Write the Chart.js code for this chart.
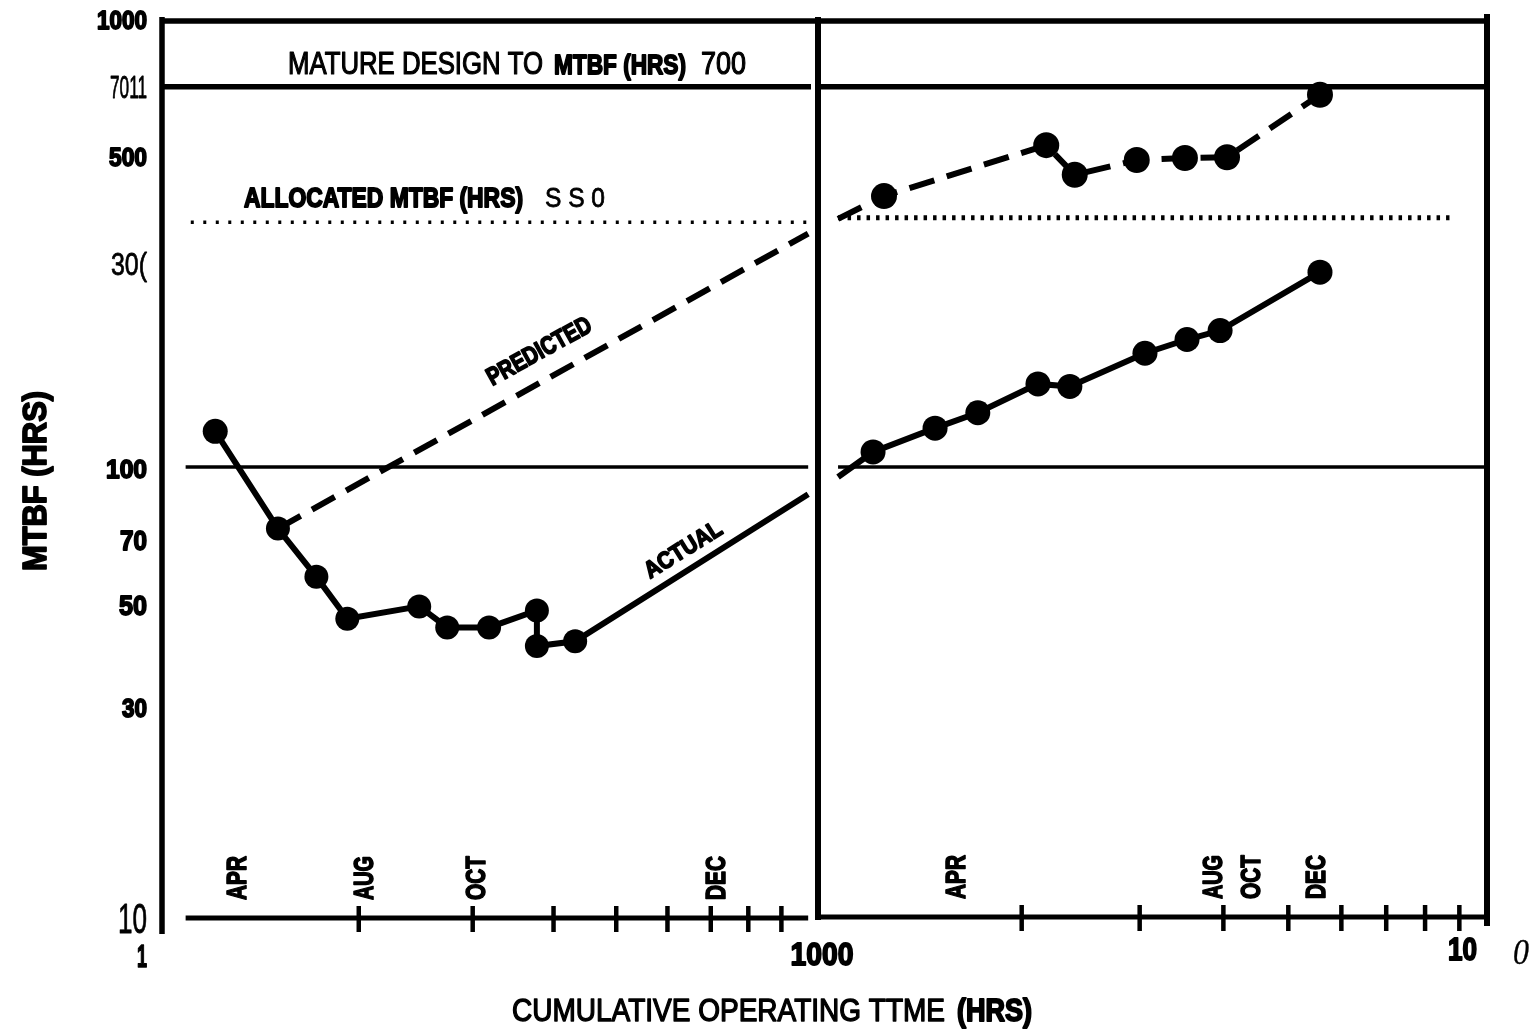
<!DOCTYPE html>
<html><head><meta charset="utf-8">
<script src="https://cdn.jsdelivr.net/npm/chart.js@4.4.1/dist/chart.umd.min.js"></script>
<style>
html,body{margin:0;padding:0;background:#fff;}
#wrap{position:relative;width:1531px;height:1030px;overflow:hidden;background:#fff;}
canvas{position:absolute;left:0;top:0;}
</style></head><body>
<div id="wrap">
<canvas id="cL" width="1531" height="1030" style="width:1531px;height:1030px"></canvas>
<canvas id="cR" width="1531" height="1030" style="width:1531px;height:1030px"></canvas>
</div>
<script>
// ---- data ----
const leftActualHrs  = [120, 150, 172, 192, 248, 274, 318, 377, 377, 432, 990];
const leftActualMtbf = [120, 73, 57, 46, 49, 44, 44, 48, 40, 41, 87];
const leftPredHrs    = [150, 990];
const leftPredMtbf   = [73, 330];
const rightActualHrs  = [1064, 1200, 1485, 1720, 2115, 2360, 3055, 3530, 3955, 5575];
const rightActualMtbf = [95, 108, 122, 132, 153, 151, 179, 192, 201, 271];
const rightPredHrs    = [1064, 1246, 2176, 2400, 2970, 3505, 4050, 5575];
const rightPredMtbf   = [356, 400, 519, 446, 481, 486, 488, 672];
const matureMtbf = 700;
const allocatedMtbfLeft = 350;
const allocatedMtbfRight = 358;
const baselineMtbf = 100;
const yTickValues = [1000, 700, 500, 300, 100, 70, 50, 30, 10];
const yTickLabels = ['1000', '7011', '500', '30(', '100', '70', '50', '30', '10'];
const leftTickHrs  = [200, 300, 400, 500, 600, 700, 800, 900];
const rightTickHrs = [2000, 3000, 4000, 5000, 6000, 7000, 8000, 9000];
const leftMonths   = ['APR', 'AUG', 'OCT', 'DEC'];
const leftMonthHrs = [129, 203, 303, 710];
const rightMonths   = ['APR', 'AUG', 'OCT', 'DEC'];
const rightMonthHrs = [1590, 3840, 4380, 5480];
const leftSpanHrs  = [108, 990];
const rightSpanHrs = [1064, 10000];

// ---- styles ----
const BLACK = '#000';
const FAM = "'Liberation Sans Narrow','Liberation Sans',Arial,sans-serif";
const yLabelStyle = [
  {w:50,h:18,b:true,dy:3},{w:37,h:22,b:false,dy:0},{w:38,h:19,b:true,dy:4},{w:36,h:23,b:false,dy:11},
  {w:41,h:19,b:true,dy:1},{w:27,h:20,b:true,dy:3},{w:28,h:20,b:true,dy:3},{w:25,h:19,b:true,dy:5},{w:29,h:31,b:false,dy:0}
];

function fitText(ctx, str, o) {
  const fs = o.h / 0.72;
  ctx.save();
  ctx.font = (o.style || 'normal') + ' ' + (o.bold ? 'bold' : 'normal') + ' ' + fs + 'px ' + (o.family || FAM);
  const mw = ctx.measureText(str).width;
  const sx = o.w ? o.w / mw : 1;
  ctx.translate(o.x, o.y);
  if (o.rot) ctx.rotate(o.rot);
  ctx.scale(sx, 1);
  let dx = 0;
  if (o.align === 'center') dx = -mw / 2; else if (o.align === 'right') dx = -mw;
  ctx.textBaseline = 'alphabetic';
  ctx.fillStyle = BLACK;
  ctx.fillText(str, dx, 0);
  const sw = o.sw !== undefined ? o.sw : (o.bold ? 1.3 : 0.5);
  if (sw > 0) { ctx.strokeStyle = BLACK; ctx.lineWidth = sw; ctx.lineJoin = 'round'; ctx.strokeText(str, dx, 0); }
  ctx.restore();
}
function seg(ctx, x1, y1, x2, y2, w) {
  ctx.save(); ctx.strokeStyle = BLACK; ctx.lineWidth = w; ctx.lineCap = 'butt';
  ctx.beginPath(); ctx.moveTo(x1, y1); ctx.lineTo(x2, y2); ctx.stroke(); ctx.restore();
}
function pts(xs, ys) { return xs.map((x, i) => ({x: x, y: ys[i]})); }
function lineDs(data, extra) {
  return Object.assign({data: data, showLine: true, borderColor: BLACK, backgroundColor: BLACK,
    pointBackgroundColor: BLACK, pointBorderWidth: 0, pointRadius: 0, pointHoverRadius: 0,
    borderWidth: 5, fill: false, tension: 0, clip: false, borderCapStyle: 'butt'}, extra || {});
}
function opts(xmin, xmax, pad) {
  return {responsive: false, animation: false, events: [], layout: {padding: pad},
    plugins: {legend: {display: false}, tooltip: {enabled: false}},
    scales: {x: {type: 'logarithmic', min: xmin, max: xmax, display: false},
             y: {type: 'logarithmic', min: 10, max: 1000, display: false}}};
}
function drawTicks(ctx, xs, vals, yAxis) {
  vals.forEach(v => { const x = xs.getPixelForValue(v); seg(ctx, x, yAxis - 12, x, yAxis + 14, 4.5); });
}
function drawMonths(ctx, xs, names, vals, yAxis) {
  names.forEach((n, i) => {
    const x = xs.getPixelForValue(vals[i]);
    fitText(ctx, n, {x: x + 10, y: yAxis - 18, w: 44, h: 20, bold: true, sw: 1.6, rot: -Math.PI / 2});
  });
}

const leftPlugin = {
  id: 'leftDecor',
  afterDatasetsDraw(chart) {
    const ctx = chart.ctx, xs = chart.scales.x, ys = chart.scales.y, a = chart.chartArea;
    const yAxis = ys.getPixelForValue(10) + 1;
    seg(ctx, a.left - 2, a.top, a.left - 2, yAxis + 16, 5.5);
    seg(ctx, a.left - 4, a.top + 4, 818, a.top + 4, 5.5);
    seg(ctx, xs.getPixelForValue(leftSpanHrs[0]), yAxis, xs.getPixelForValue(leftSpanHrs[1]), yAxis, 5);
    drawTicks(ctx, xs, leftTickHrs, yAxis);
    drawMonths(ctx, xs, leftMonths, leftMonthHrs, yAxis);
    // y tick labels
    yTickValues.forEach((v, i) => {
      const s = yLabelStyle[i], py = ys.getPixelForValue(v);
      fitText(ctx, yTickLabels[i], {x: 147, y: py + s.h / 2 + s.dy, w: s.w, h: s.h, bold: s.b, sw: s.b ? 1.8 : 0.8, align: 'right'});
    });
    fitText(ctx, 'MTBF (HRS)', {x: 46, y: 481, w: 180, h: 24, bold: true, sw: 1.8, align: 'center', rot: -Math.PI / 2});
    // headers
    fitText(ctx, 'MATURE DESIGN TO', {x: 288, y: 74, w: 255, h: 22, sw: 1.2});
    fitText(ctx, 'MTBF (HRS)', {x: 554, y: 74, w: 132, h: 20, bold: true, sw: 1.8});
    fitText(ctx, '700', {x: 701, y: 74, w: 45, h: 22, sw: 1.2});
    fitText(ctx, 'ALLOCATED MTBF (HRS)', {x: 244, y: 207, w: 279, h: 20, bold: true, sw: 1.9});
    fitText(ctx, 'S S 0', {x: 545, y: 207, w: 60, h: 20, sw: 0.8});
    fitText(ctx, 'PREDICTED', {x: 543, y: 358, w: 116, h: 18, bold: true, sw: 1.7, align: 'center', rot: -29 * Math.PI / 180});
    fitText(ctx, 'ACTUAL', {x: 687, y: 556, w: 87, h: 17, bold: true, sw: 1.7, align: 'center', rot: -32 * Math.PI / 180});
    // x labels
    fitText(ctx, '1', {x: 147, y: 967, w: 10, h: 22, bold: true, sw: 1.5, align: 'right'});
    fitText(ctx, '1000', {x: xs.getPixelForValue(1000) + 11, y: 965, w: 63, h: 23, bold: true, sw: 1.8, align: 'center'});
    fitText(ctx, 'CUMULATIVE OPERATING TTME', {x: 512, y: 1021, w: 433, h: 23, sw: 1.4});
    fitText(ctx, '(HRS)', {x: 957, y: 1021, w: 75, h: 22, bold: true, sw: 1.9});
  }
};
const rightPlugin = {
  id: 'rightDecor',
  afterDatasetsDraw(chart) {
    const ctx = chart.ctx, xs = chart.scales.x, ys = chart.scales.y, a = chart.chartArea;
    const yAxis = ys.getPixelForValue(10);
    seg(ctx, a.left - 2, a.top, a.left - 2, yAxis + 3, 6);
    seg(ctx, a.left - 4, a.top + 4, a.right, a.top + 4, 5.5);
    seg(ctx, a.right - 3, a.top - 3, a.right - 3, yAxis + 9, 6);
    seg(ctx, a.left - 5, yAxis, a.right, yAxis, 5);
    drawTicks(ctx, xs, rightTickHrs, yAxis);
    drawMonths(ctx, xs, rightMonths, rightMonthHrs, yAxis);
    fitText(ctx, '10', {x: 1448, y: 960, w: 29, h: 22, bold: true, sw: 1.8});
    fitText(ctx, '0', {x: 1513, y: 964, w: 16, h: 26, style: 'italic', sw: 0.3, family: "'Liberation Serif',serif"});
  }
};

const leftActualRadius = leftActualHrs.map((_, i) => i === leftActualHrs.length - 1 ? 0 : (i === 0 ? 12.5 : 12));
new Chart(document.getElementById('cL'), {
  type: 'scatter',
  data: {datasets: [
    lineDs(pts([100, 1000], [matureMtbf, matureMtbf]), {borderWidth: 5.5}),
    lineDs(pts(leftSpanHrs, [baselineMtbf, baselineMtbf]), {borderWidth: 3.5}),
    lineDs(pts([110, 990], [allocatedMtbfLeft, allocatedMtbfLeft]), {borderWidth: 3.5, borderDash: [3, 9.5]}),
    lineDs(pts(leftPredHrs, leftPredMtbf), {borderWidth: 6, borderDash: [26, 13]}),
    lineDs(pts(leftActualHrs, leftActualMtbf), {borderWidth: 6, pointRadius: leftActualRadius})
  ]},
  options: opts(100, 1000, {left: 164, right: 1531 - 811, top: 17, bottom: 1030 - 917}),
  plugins: [leftPlugin]
});

const rightActualRadius = rightActualHrs.map((_, i) => i === 0 ? 0 : 12.5);
const rightPredRadius = rightPredHrs.map((_, i) => i === 0 ? 0 : 13);
new Chart(document.getElementById('cR'), {
  type: 'scatter',
  data: {datasets: [
    lineDs(pts([1000, 10000], [matureMtbf, matureMtbf]), {borderWidth: 5.5}),
    lineDs(pts(rightSpanHrs, [baselineMtbf, baselineMtbf]), {borderWidth: 3.5}),
    lineDs(pts([1064, 8700], [allocatedMtbfRight, allocatedMtbfRight]), {borderWidth: 5, borderDash: [3.5, 6]}),
    lineDs(pts(rightPredHrs, rightPredMtbf), {borderWidth: 6, borderDash: [26, 13], pointRadius: rightPredRadius}),
    lineDs(pts(rightActualHrs, rightActualMtbf), {borderWidth: 6, pointRadius: rightActualRadius})
  ]},
  options: opts(1000, 10000, {left: 820, right: 1531 - 1490, top: 17, bottom: 1030 - 917}),
  plugins: [rightPlugin]
});
</script>
</body></html>
